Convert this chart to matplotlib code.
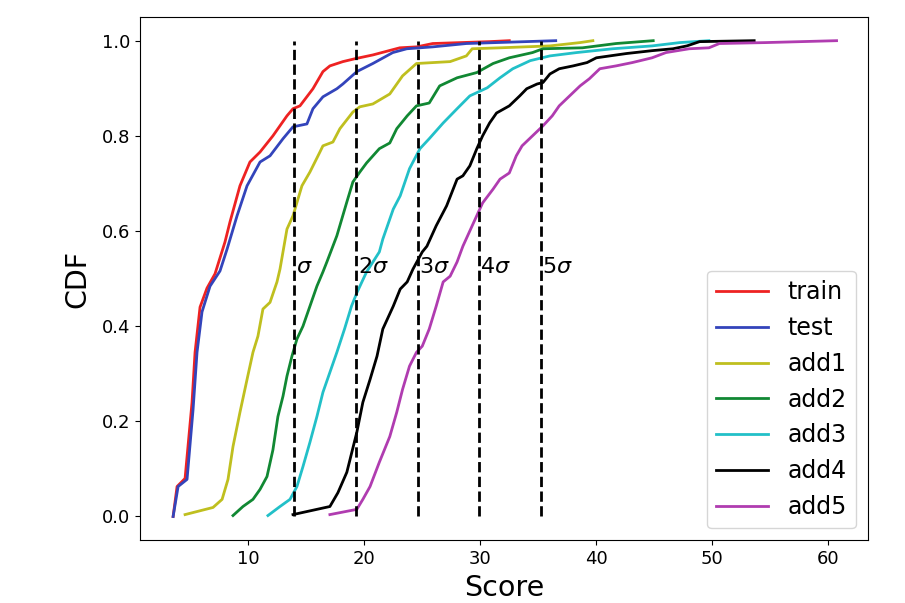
import matplotlib
matplotlib.use("Agg")
import matplotlib.pyplot as plt
import numpy as np

# scores, with their cdf values
train_x = [3.53, 3.87, 4.56, 5.16, 5.42, 5.85, 6.45, 7.14, 8.00, 8.43, 9.29, 10.15, 11.02,
           12.13, 13.34, 13.86, 14.46, 15.58, 16.44, 17.04, 18.16, 19.19, 20.74, 23.06,
           24.53, 25.9, 30.8, 32.5]
train_y = [0, 0.063, 0.08, 0.24, 0.345, 0.44, 0.48, 0.51, 0.577, 0.619, 0.695, 0.745, 0.766,
           0.80, 0.842, 0.857, 0.863, 0.899, 0.935, 0.947, 0.956, 0.962, 0.970, 0.985,
           0.987, 0.994, 0.998, 1.0]

test_x = [3.53, 3.96, 4.73, 5.25, 5.59, 6.02, 6.71, 7.57, 8.18, 9.04, 9.90, 11.02, 11.88,
          13.0, 13.86, 15.06, 15.58, 16.44, 17.64, 18.16, 19.36, 20.74, 22.46, 23.67,
          25.9, 28.8, 36.5]
test_y = [0, 0.063, 0.078, 0.225, 0.345, 0.43, 0.484, 0.516, 0.562, 0.632, 0.695, 0.745, 0.758,
          0.794, 0.819, 0.825, 0.857, 0.882, 0.899, 0.909, 0.935, 0.952, 0.975, 0.983,
          0.987, 0.994, 1.0]

add1_x = [4.56, 6.97, 7.75, 8.26, 8.69, 9.29, 9.90, 10.41, 10.84, 11.27, 11.88, 12.48, 12.74,
          13.34, 13.86, 14.63, 15.32, 16.18, 16.44, 17.30, 17.90, 19.02, 19.62, 20.74,
          22.2, 23.3, 24.5, 27.4, 28.8, 29.3, 31.7, 36.0, 38.6, 39.7]
add1_y = [0.004, 0.019, 0.036, 0.078, 0.147, 0.219, 0.288, 0.345, 0.379, 0.436, 0.45, 0.493, 0.52,
          0.604, 0.632, 0.695, 0.724, 0.766, 0.779, 0.787, 0.815, 0.85, 0.861, 0.867,
          0.888, 0.926, 0.952, 0.956, 0.968, 0.983, 0.985, 0.989, 0.996, 1.0]

add2_x = [8.69, 9.55, 10.41, 11.02, 11.62, 12.13, 12.56, 13.0, 13.34, 13.77, 14.2, 14.72, 15.32,
          15.92, 16.44, 16.78, 17.64, 18.5, 19.02, 19.62, 20.2, 21.3, 22.2, 22.8, 23.7,
          24.5, 25.6, 26.5, 28.0, 29.7, 31.1, 32.5, 34.5, 35.4, 38.8, 41.7, 44.9]
add2_y = [0.002, 0.021, 0.036, 0.057, 0.084, 0.14, 0.21, 0.253, 0.295, 0.337, 0.373, 0.40, 0.442,
          0.484, 0.514, 0.535, 0.59, 0.661, 0.703, 0.724, 0.743, 0.773, 0.785, 0.815, 0.842,
          0.863, 0.869, 0.905, 0.922, 0.933, 0.952, 0.964, 0.975, 0.983, 0.985, 0.994, 1.0]

add3_x = [11.7, 12.74, 13.6, 14.2, 14.72, 15.32, 15.92, 16.44, 17.04, 17.64, 18.3, 18.9, 19.36,
          20.2, 21.3, 21.6, 22.5, 23.1, 23.9, 24.8, 25.6, 26.8, 28.0, 29.1, 30.6, 31.7,
          32.8, 34.3, 36.0, 38.3, 41.4, 44.8, 47.2, 49.7]
add3_y = [0.002, 0.021, 0.036, 0.063, 0.105, 0.156, 0.21, 0.261, 0.303, 0.345, 0.394, 0.442, 0.47,
          0.514, 0.556, 0.583, 0.646, 0.674, 0.731, 0.773, 0.794, 0.827, 0.857, 0.884, 0.901, 0.922,
          0.941, 0.958, 0.968, 0.975, 0.983, 0.989, 0.996, 1.0]

add4_x = [13.86, 17.04, 17.73, 18.5, 19.36, 19.88, 20.5, 21.1, 21.6, 22.5, 23.1, 23.7, 24.2,
          25.0, 25.4, 26.2, 27.1, 28.0, 28.5, 29.1, 29.7, 30.2, 30.8, 31.4, 32.5, 33.4,
          34.0, 34.9, 35.4, 36.0, 36.8, 38.0, 39.2, 40.0, 42.6, 44.8, 46.6, 47.8, 48.9, 53.6]
add4_y = [0.004, 0.021, 0.05, 0.093, 0.177, 0.24, 0.288, 0.337, 0.394, 0.442, 0.478, 0.493, 0.52,
          0.556, 0.568, 0.611, 0.653, 0.709, 0.716, 0.737, 0.773, 0.80, 0.827, 0.848, 0.863, 0.884,
          0.899, 0.909, 0.912, 0.93, 0.941, 0.947, 0.954, 0.964, 0.973, 0.979, 0.983, 0.989, 0.998, 1.0]

add5_x = [17.04, 19.36, 19.88, 20.5, 21.3, 22.2, 22.8, 23.3, 23.9, 24.5, 25.0, 25.6, 26.2,
          26.8, 27.4, 28.0, 28.5, 29.3, 30.2, 31.1, 31.7, 32.5, 33.1, 33.6, 34.5, 35.4,
          36.2, 36.8, 37.7, 38.6, 39.4, 40.3, 41.7, 43.1, 44.8, 46.0, 48.0, 49.7, 50.6, 54.6, 60.7]
add5_y = [0.004, 0.015, 0.036, 0.063, 0.114, 0.168, 0.219, 0.267, 0.316, 0.345, 0.358, 0.394, 0.442,
          0.493, 0.505, 0.535, 0.568, 0.611, 0.659, 0.688, 0.709, 0.722, 0.758, 0.779, 0.80, 0.821,
          0.842, 0.863, 0.884, 0.905, 0.92, 0.941, 0.947, 0.954, 0.964, 0.975, 0.983, 0.985, 0.994, 0.996, 1.0]

# k*sigma thresholds
sigma_x = [13.94, 19.28, 24.6, 29.86, 35.2]
sigma_labels = [r"$\sigma$", r"2$\sigma$", r"3$\sigma$", r"4$\sigma$", r"5$\sigma$"]

fig = plt.figure(figsize=(9.05, 6.03), dpi=100)
ax = fig.add_axes([0.155, 0.104, 0.804, 0.868])

ax.plot(train_x, train_y, color="#ee2222", lw=2, label="train")
ax.plot(test_x, test_y, color="#3344bb", lw=2, label="test")
ax.plot(add1_x, add1_y, color="#bfbf1f", lw=2, label="add1")
ax.plot(add2_x, add2_y, color="#118833", lw=2, label="add2")
ax.plot(add3_x, add3_y, color="#22c0c8", lw=2, label="add3")
ax.plot(add4_x, add4_y, color="k", lw=2, label="add4")
ax.plot(add5_x, add5_y, color="#b03cb0", lw=2, label="add5")

for sx, lab in zip(sigma_x, sigma_labels):
    ax.vlines(sx, 0, 1, colors="k", linestyles="--", lw=2)
    ax.text(sx + 0.15, 0.512, lab, fontsize=16, ha="left", va="baseline")

ax.set_xlim(0.7, 63.4)
ax.set_ylim(-0.05, 1.05)
ax.set_xticks([10, 20, 30, 40, 50, 60])
ax.set_yticks([0.0, 0.2, 0.4, 0.6, 0.8, 1.0])
ax.tick_params(labelsize=13)
ax.set_xlabel("Score", fontsize=20.5)
ax.set_ylabel("CDF", fontsize=20.5, labelpad=8)
ax.legend(loc="lower right", fontsize=17, handlelength=2.2)

fig.savefig("out.png", dpi=100)
